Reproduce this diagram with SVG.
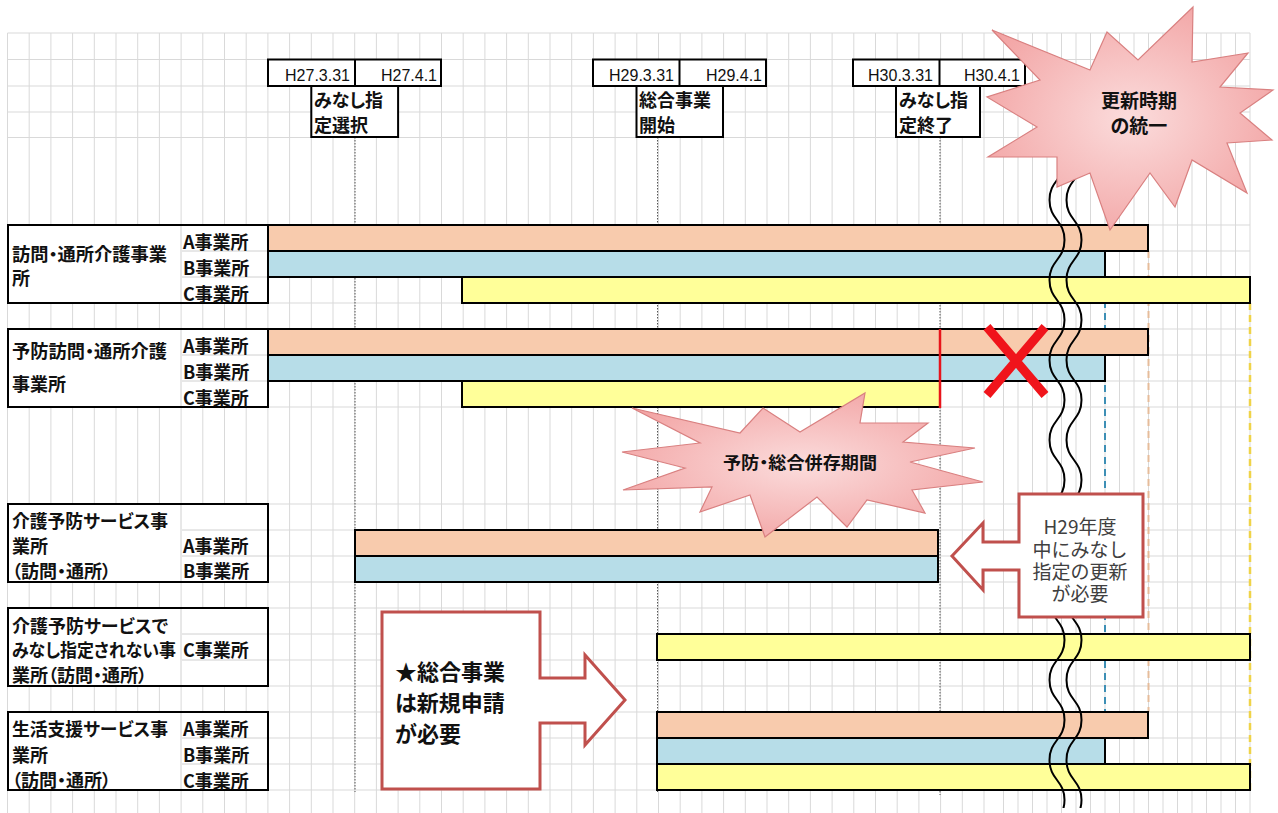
<svg xmlns="http://www.w3.org/2000/svg" width="1278" height="813" viewBox="0 0 1278 813">
<style>
.grid{stroke:#D9D9D9;stroke-width:1;fill:none}
.dot{stroke:#555;stroke-width:1;stroke-dasharray:1.5 1.5;fill:none}
.box{fill:#fff;stroke:#000;stroke-width:2}
.cell{stroke:#D0D0D0;stroke-width:1;fill:none}
.bo{fill:#F8CBAD;stroke:#000;stroke-width:2}
.bb{fill:#B7DDE8;stroke:#000;stroke-width:2}
.by{fill:#FFFF99;stroke:#000;stroke-width:2}
.jp{font-family:"Noto Sans CJK JP","Noto Sans CJK SC",sans-serif;font-weight:bold;font-size:18px;fill:#111;font-feature-settings:"palt"}
.big{font-size:22px}
.b19{font-size:19px}
.b17{font-size:17px}
.dt{font-family:"Liberation Sans",Arial,sans-serif;font-size:16px;fill:#111;text-anchor:end}
.c1{font-family:"Noto Sans CJK JP",sans-serif;font-size:19px;fill:#404040;text-anchor:middle}
.wave{fill:none;stroke:#000;stroke-width:2}
.burst{fill:url(#pink);stroke:#D98080;stroke-width:1.2}
.call{fill:#fff;stroke:#C0504D;stroke-width:3;stroke-linejoin:miter}
</style>
<defs>
<radialGradient id="pink" cx="50%" cy="50%" r="60%">
<stop offset="0" stop-color="#FBDCDC"/>
<stop offset="1" stop-color="#F2A2A2"/>
</radialGradient>
<clipPath id="wclip"><rect x="0" y="0" width="1278" height="808"/></clipPath>
<path id="wv" d="M1049.5,120 C1049.5,140 1064.5,140 1064.5,160 S1049.5,180 1049.5,200 S1064.5,220 1064.5,240 S1049.5,260 1049.5,280 S1064.5,300 1064.5,320 S1049.5,340 1049.5,360 S1064.5,380 1064.5,400 S1049.5,420 1049.5,440 S1064.5,460 1064.5,480 S1049.5,500 1049.5,520 S1064.5,540 1064.5,560 S1049.5,580 1049.5,600 S1064.5,620 1064.5,640 S1049.5,660 1049.5,680 S1064.5,700 1064.5,720 S1049.5,740 1049.5,760 S1064.5,780 1064.5,800 S1049.5,820 1049.5,840"/>
</defs>
<rect width="1278" height="813" fill="#fff"/>
<g id="grid">
<path class="grid" d="M7.5 33V813M29.2 33V813M50.9 33V813M72.6 33V813M94.3 33V813M116 33V813M137.7 33V813M159.4 33V813M181.1 33V813M202.8 33V813M224.5 33V813M246.2 33V813M267.9 33V813M289.6 33V813M311.3 33V813M333 33V813M354.7 33V813M376.4 33V813M398.1 33V813M419.8 33V813M441.5 33V813M463.2 33V813M484.9 33V813M506.6 33V813M528.3 33V813M550 33V813M571.7 33V813M593.4 33V813M615.1 33V813M636.8 33V813M658.5 33V813M680.2 33V813M701.9 33V813M723.6 33V813M745.3 33V813M767 33V813M788.7 33V813M810.4 33V813M832.1 33V813M853.8 33V813M875.5 33V813M897.2 33V813M918.9 33V813M940.6 33V813M962.3 33V813M984 33V813M1003.5 33V813M1018 33V813M1032.5 33V813M1047 33V813M1061.5 33V813M1076 33V813M1090.5 33V813M1105 33V813M1119.5 33V813M1134 33V813M1148.5 33V813M1163 33V813M1177.5 33V813M1192 33V813M1206.5 33V813M1221 33V813M1235.5 33V813M1250 33V813"/>
<path class="grid" d="M7.5 33H1250M7.5 59.5H1250M7.5 86H1250M7.5 112H1250M7.5 137.5H1250M7.5 225H1250M7.5 251H1250M7.5 277H1250M7.5 303H1250M7.5 329H1250M7.5 355H1250M7.5 381H1250M7.5 407H1250M7.5 504H1250M7.5 530H1250M7.5 556H1250M7.5 582H1250M7.5 608H1250M7.5 634H1250M7.5 660H1250M7.5 686H1250M7.5 712H1250M7.5 738H1250M7.5 764H1250M7.5 790H1250"/>
</g>
<g id="connectors">
<path class="dot" d="M355 137V792M657.5 137V792M940 137V795"/>
<path d="M1105 277V738" stroke="#3D8FB5" stroke-width="2" stroke-dasharray="7 5" fill="none"/>
<path d="M1148.5 251V712" stroke="#E6BC9A" stroke-width="2" stroke-dasharray="7 5" fill="none"/>
<path d="M1250 303V792" stroke="#EFD348" stroke-width="2.5" stroke-dasharray="7 5" fill="none"/>
</g>
<g id="group1">
<rect class="box" x="8" y="225" width="260" height="78"/>
<path class="cell" d="M181 226V302M182 251H267M182 277H267"/>
<text class="jp" x="12" y="261" textLength="155" lengthAdjust="spacingAndGlyphs">訪問・通所介護事業</text>
<text class="jp" x="12" y="285">所</text>
<text class="jp" x="183" y="249">A事業所</text>
<text class="jp" x="183" y="275">B事業所</text>
<text class="jp" x="183" y="301">C事業所</text>
<rect class="bo" x="268" y="225" width="880" height="26"/>
<rect class="bb" x="268" y="251" width="837" height="26"/>
<rect class="by" x="462" y="277" width="788" height="26"/>
</g>
<g id="group2">
<rect class="box" x="8" y="329" width="260" height="78"/>
<path class="cell" d="M181 330V406M182 355H267M182 381H267"/>
<text class="jp" x="12" y="358" textLength="155" lengthAdjust="spacingAndGlyphs">予防訪問・通所介護</text>
<text class="jp" x="12" y="391">事業所</text>
<text class="jp" x="183" y="353">A事業所</text>
<text class="jp" x="183" y="379">B事業所</text>
<text class="jp" x="183" y="405">C事業所</text>
<rect class="bo" x="268" y="329" width="880" height="26"/>
<rect class="bb" x="268" y="355" width="837" height="26"/>
<rect class="by" x="462" y="381" width="478" height="26"/>
<path d="M940 329V408" stroke="#E8141B" stroke-width="2.5"/>
<path d="M987 327L1045 395M1045 327L987 395" stroke="#F0141B" stroke-width="9"/>
</g>
<g id="group3">
<rect class="box" x="8" y="504" width="260" height="78"/>
<path class="cell" d="M181 505V581M182 530H267M182 556H267"/>
<text class="jp" x="12" y="528" textLength="156" lengthAdjust="spacingAndGlyphs">介護予防サービス事</text>
<text class="jp" x="12" y="553">業所</text>
<text class="jp" x="12" y="578">（訪問・通所）</text>
<text class="jp" x="183" y="553">A事業所</text>
<text class="jp" x="183" y="578">B事業所</text>
<rect class="bo" x="355" y="530" width="583" height="26"/>
<rect class="bb" x="355" y="556" width="583" height="26"/>
</g>
<g id="group4">
<rect class="box" x="8" y="608" width="260" height="78"/>
<path class="cell" d="M181 609V685M182 634H267M182 660H267"/>
<text class="jp" x="12" y="633" textLength="156" lengthAdjust="spacingAndGlyphs">介護予防サービスで</text>
<text class="jp" x="12" y="657" textLength="164" lengthAdjust="spacingAndGlyphs">みなし指定されない事</text>
<text class="jp" x="12" y="682">業所（訪問・通所）</text>
<text class="jp" x="183" y="657">C事業所</text>
<rect class="by" x="657" y="634" width="593" height="26"/>
</g>
<g id="group5">
<rect class="box" x="8" y="712" width="260" height="78"/>
<path class="cell" d="M181 713V789M182 738H267M182 764H267"/>
<text class="jp" x="12" y="736" textLength="156" lengthAdjust="spacingAndGlyphs">生活支援サービス事</text>
<text class="jp" x="12" y="762">業所</text>
<text class="jp" x="12" y="787">（訪問・通所）</text>
<text class="jp" x="183" y="736">A事業所</text>
<text class="jp" x="183" y="762">B事業所</text>
<text class="jp" x="183" y="788">C事業所</text>
<rect class="bo" x="657" y="712" width="491" height="26"/>
<rect class="bb" x="657" y="738" width="448" height="26"/>
<rect class="by" x="657" y="764" width="593" height="26"/>
</g>
<g id="break" clip-path="url(#wclip)">
<use href="#wv" class="wave"/>
<use href="#wv" class="wave" x="17"/>
</g>
<g id="h27">
<rect class="box" x="268" y="59.5" width="173" height="26.5"/>
<path d="M355 59.5V86" stroke="#000" stroke-width="2"/>
<text class="dt" x="350" y="81">H27.3.31</text>
<text class="dt" x="437" y="81">H27.4.1</text>
<rect class="box" x="311.3" y="86" width="86.8" height="51"/>
<text class="jp" x="314" y="107">みなし指</text>
<text class="jp" x="314" y="132">定選択</text>
</g>
<g id="h29">
<rect class="box" x="593" y="59.5" width="173" height="26.5"/>
<path d="M679.5 59.5V86" stroke="#000" stroke-width="2"/>
<text class="dt" x="674" y="81">H29.3.31</text>
<text class="dt" x="762" y="81">H29.4.1</text>
<rect class="box" x="636.5" y="86" width="86.5" height="51"/>
<text class="jp" x="639" y="107">総合事業</text>
<text class="jp" x="639" y="132">開始</text>
</g>
<g id="h30">
<rect class="box" x="853" y="59.5" width="172" height="26.5"/>
<path d="M939.5 59.5V86" stroke="#000" stroke-width="2"/>
<text class="dt" x="933" y="81">H30.3.31</text>
<text class="dt" x="1020" y="81">H30.4.1</text>
<rect class="box" x="896" y="86" width="84" height="51"/>
<text class="jp" x="899" y="107">みなし指</text>
<text class="jp" x="899" y="132">定終了</text>
</g>
<g id="burst1">
<polygon class="burst" points="992,30 1090,70 1107,32 1138,60 1193,7 1192,62 1248,53 1220,87 1273,90 1240,113 1272,140 1227,143 1247,193 1192,160 1175,207 1150,173 1110,230 1090,173 1057,187 1057,157 988,157 1037,127 987,97 1040,80"/>
<text class="jp b19" x="1139" y="108" text-anchor="middle">更新時期</text>
<text class="jp b19" x="1139" y="133" text-anchor="middle">の統一</text>
</g>
<g id="burst2">
<polygon class="burst" points="632,408 740,433 763,408 800,432 865,393 860,423 928,423 903,442 975,448 910,462 983,482 912,490 925,513 867,500 847,527 817,497 765,537 750,495 700,512 712,487 623,490 685,468 622,452 700,443"/>
<text class="jp b17" x="800" y="469" text-anchor="middle" textLength="154" lengthAdjust="spacingAndGlyphs">予防・総合併存期間</text>
</g>
<g id="callout1">
<path class="call" d="M1019,494 H1143 V617 H1019 V570 H983 V590 L952,556 L983,523 V542 H1019 Z"/>
<text class="c1" x="1080" y="534">H29年度</text>
<text class="c1" x="1080" y="557">中にみなし</text>
<text class="c1" x="1080" y="579">指定の更新</text>
<text class="c1" x="1080" y="601">が必要</text>
</g>
<g id="callout2">
<path class="call" d="M382,612 H540 V678 H585 V655 L625,700 L585,745 V723 H540 V789 H382 Z"/>
<text class="jp big" x="395" y="680">★総合事業</text>
<text class="jp big" x="395" y="711">は新規申請</text>
<text class="jp big" x="395" y="742">が必要</text>
</g>
</svg>
